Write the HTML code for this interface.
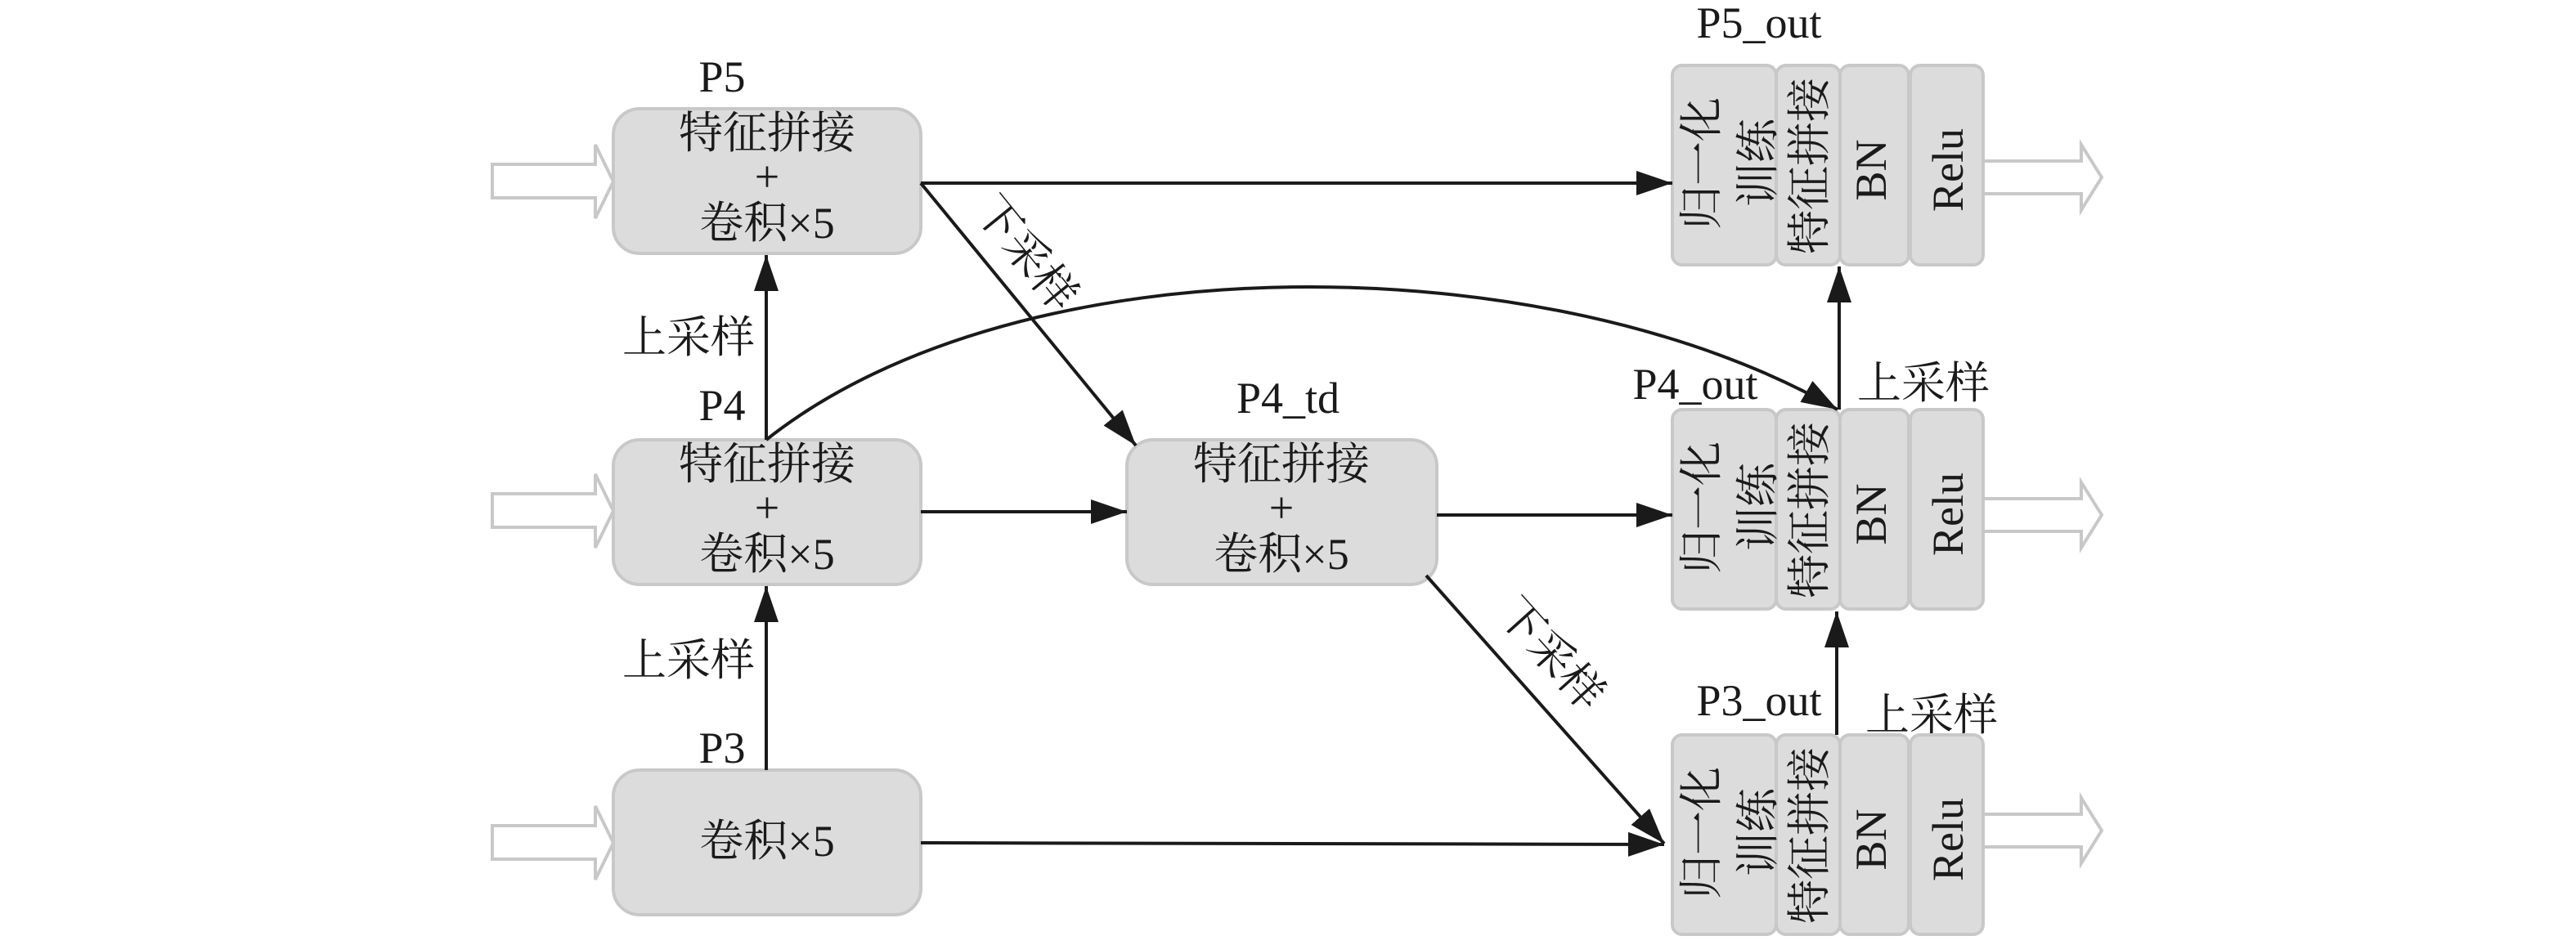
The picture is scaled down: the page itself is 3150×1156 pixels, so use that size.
<!DOCTYPE html>
<html><head><meta charset="utf-8"><style>
html,body{margin:0;padding:0;background:#fff;}
svg{display:block;}
text{font-family:"Liberation Serif","Noto Serif CJK SC","Noto Sans CJK SC",serif;fill:#1a1a1a;}
</style></head><body>
<svg width="3150" height="1156" viewBox="0 0 3150 1156" xmlns="http://www.w3.org/2000/svg">
<defs>
<marker id="ah" markerUnits="userSpaceOnUse" markerWidth="46" markerHeight="32" refX="44" refY="15" orient="auto">
<path d="M0,0 L44,15 L0,30 z" fill="#1a1a1a"/>
</marker>
</defs>
<g fill="#fff" stroke="#c8c8c8" stroke-width="4">
<polygon points="602,201 728,201 728,177 750,222 728,267 728,242 602,242"/>
<polygon points="602,604 728,604 728,580 750,625 728,670 728,645 602,645"/>
<polygon points="602,1010 728,1010 728,986 750,1031 728,1076 728,1051 602,1051"/>
<polygon points="2425,197 2545,197 2545,177 2570,217 2545,257 2545,237 2425,237"/>
<polygon points="2425,610 2545,610 2545,590 2570,630 2545,670 2545,650 2425,650"/>
<polygon points="2425,996 2545,996 2545,976 2570,1016 2545,1056 2545,1036 2425,1036"/>
</g>
<g fill="#dcdcdc" stroke="#c8c8c8" stroke-width="4">
<rect x="750" y="133" width="376" height="177" rx="32"/>
<rect x="750" y="538" width="376" height="177" rx="32"/>
<rect x="750" y="942" width="376" height="177" rx="32"/>
<rect x="1378" y="538" width="379" height="177" rx="32"/>
</g>
<g font-size="54" text-anchor="middle">
<text x="938" y="181">特征拼接</text><text x="938" y="234">+</text><text x="938" y="291">卷积×5</text>
<text x="938" y="586">特征拼接</text><text x="938" y="639">+</text><text x="938" y="696">卷积×5</text>
<text x="938" y="1047">卷积×5</text>
<text x="1567" y="586">特征拼接</text><text x="1567" y="639">+</text><text x="1567" y="696">卷积×5</text>
<text x="883" y="112">P5</text><text x="883" y="514">P4</text><text x="883" y="933">P3</text>
<text x="1575" y="505">P4_td</text>
<text x="2151" y="46">P5_out</text><text x="2073" y="488">P4_out</text><text x="2151" y="875">P3_out</text>
<text x="842" y="431">上采样</text><text x="842" y="826">上采样</text>
<text x="2352" y="487">上采样</text><text x="2362" y="893">上采样</text>
<text transform="translate(1255,310) rotate(51)" dominant-baseline="central">下采样</text>
<text transform="translate(1897,800) rotate(48)" dominant-baseline="central">下采样</text>
</g>
<g id="blk">
<g fill="#dcdcdc" stroke="#c8c8c8" stroke-width="4">
<rect x="2045" y="80" width="127" height="244" rx="12"/>
<rect x="2172" y="80" width="78" height="244" rx="12"/>
<rect x="2250" y="80" width="84" height="244" rx="12"/>
<rect x="2336" y="80" width="89" height="244" rx="12"/>
</g>
<g font-size="54" text-anchor="middle" dominant-baseline="central">
<text transform="translate(2081,200) rotate(-90)">归一化</text>
<text transform="translate(2150,199) rotate(-90)">训练</text>
<text transform="translate(2213,203) rotate(-90)">特征拼接</text>
<text transform="translate(2288,208) rotate(-90)">BN</text>
<text transform="translate(2382,208) rotate(-90)">Relu</text>
</g>
</g>
<use href="#blk" transform="translate(0,421)"/>
<use href="#blk" transform="translate(0,819)"/>
<g stroke="#1a1a1a" stroke-width="4" fill="none" marker-end="url(#ah)">
<line x1="1126" y1="224" x2="2045" y2="224"/>
<line x1="1126" y1="224" x2="1389" y2="545"/>
<line x1="937" y1="538" x2="937" y2="312"/>
<line x1="937" y1="942" x2="937" y2="717"/>
<line x1="1126" y1="626" x2="1378" y2="626"/>
<line x1="1757" y1="630" x2="2045" y2="630"/>
<line x1="1744" y1="704" x2="2035" y2="1032"/>
<line x1="1126" y1="1031" x2="2035" y2="1033"/>
<line x1="2249" y1="501" x2="2249" y2="326"/>
<line x1="2246" y1="899" x2="2246" y2="748"/>
<path d="M937,538 C1250,290 1900,300 2247,501"/>
</g>
</svg>
</body></html>
